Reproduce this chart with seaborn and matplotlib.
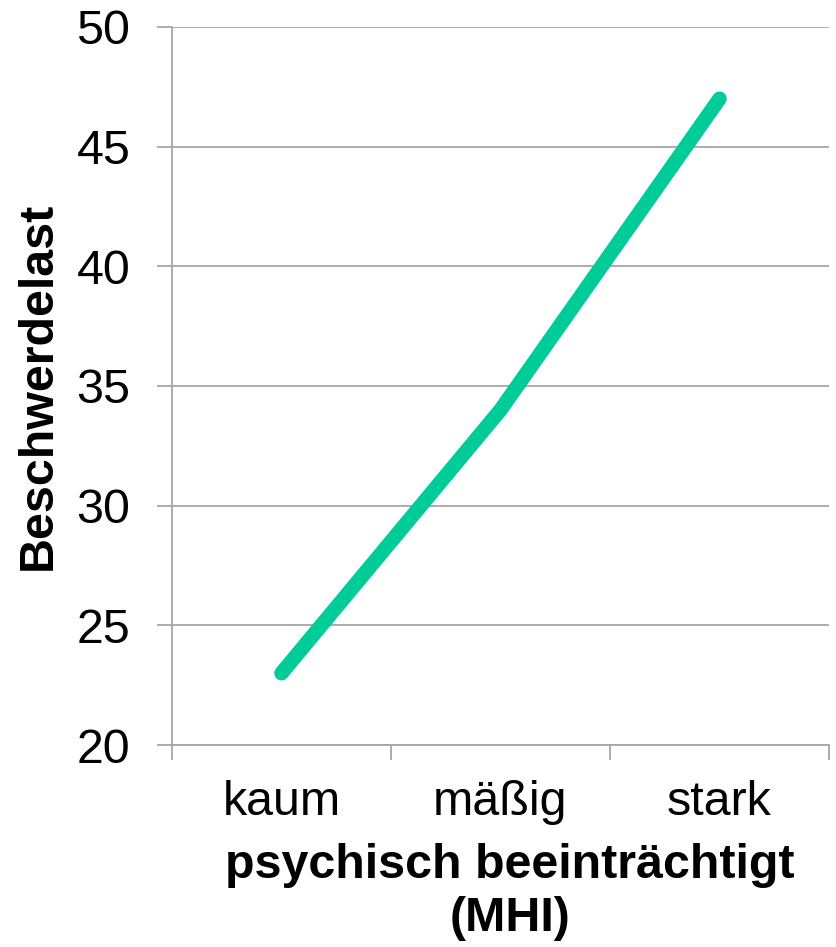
import matplotlib
matplotlib.use("Agg")
import matplotlib.pyplot as plt
import seaborn as sns
import pandas as pd
from matplotlib.ticker import FixedLocator

# Data
categories = ["kaum", "mäßig", "stark"]
beschwerdelast = [23, 34, 47]
y_ticks = [20, 25, 30, 35, 40, 45, 50]

sns.set_theme(style="white")
plt.rcParams["font.family"] = ["Liberation Sans", "DejaVu Sans"]

df = pd.DataFrame({"MHI": categories, "Beschwerdelast": beschwerdelast})

fig = plt.figure(figsize=(8.37, 9.47), dpi=100)
ax = fig.add_axes([0.2055, 0.2133, 0.7849, 0.7582])

grid_color = "#a6a6a6"
fs = 34.8

sns.lineplot(data=df, x="MHI", y="Beschwerdelast", ax=ax, sort=False,
             color="#00cc99", linewidth=10.5,
             solid_capstyle="round", solid_joinstyle="round", zorder=3)

ax.set_ylim(20, 50)
ax.set_xlim(-0.5, 2.5)
ax.set_yticks(y_ticks)
ax.set_yticklabels([str(v) for v in y_ticks])
ax.yaxis.grid(True, color=grid_color, linewidth=1.3)
ax.set_axisbelow(True)

# Category labels centred, tick marks on category boundaries
ax.set_xticks(range(len(categories)))
ax.set_xticklabels(categories)
ax.xaxis.set_minor_locator(FixedLocator([-0.5, 0.5, 1.5, 2.5]))
ax.tick_params(axis="x", which="major", length=0, pad=25, labelsize=fs,
               labelcolor="black")
ax.tick_params(axis="x", which="minor", bottom=True, length=10.5,
               width=1.3, color=grid_color)
ax.tick_params(axis="y", left=True, length=11, width=1.3, color=grid_color,
               pad=19, labelsize=fs, labelcolor="black")

for side in ["top", "right"]:
    ax.spines[side].set_visible(False)
ax.spines["left"].set_color(grid_color)
ax.spines["left"].set_linewidth(1.3)
ax.spines["left"].set_bounds(20, 50)
ax.spines["bottom"].set_color(grid_color)
ax.spines["bottom"].set_linewidth(1.3)

ax.set_xlabel("psychisch beeinträchtigt\n(MHI)", fontsize=fs,
              fontweight="bold", color="black", linespacing=1.22)
ax.xaxis.set_label_coords(0.514, -0.137, transform=ax.transAxes)
ax.xaxis.label.set_verticalalignment("top")
ax.set_ylabel("Beschwerdelast", fontsize=fs, fontweight="bold",
              color="black", labelpad=11)

fig.savefig("out.png", dpi=100, facecolor="white")
